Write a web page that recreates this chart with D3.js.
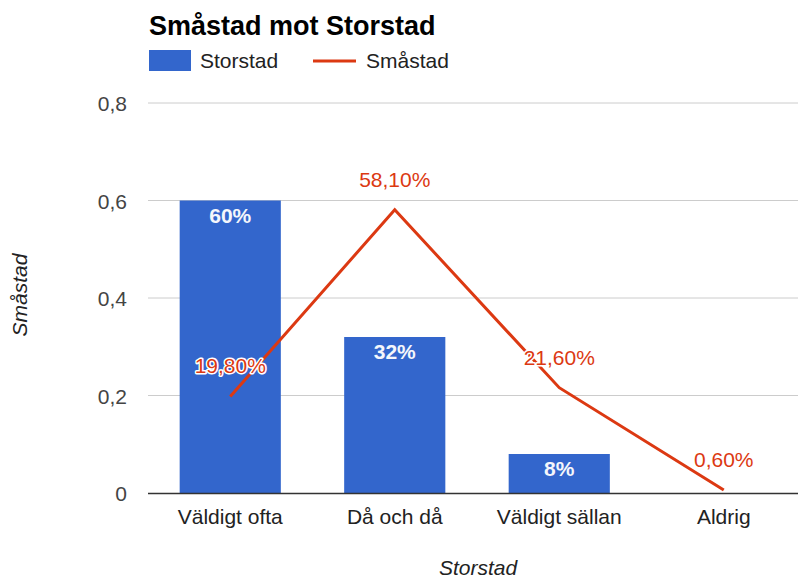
<!DOCTYPE html>
<html>
<head>
<meta charset="utf-8">
<script src="https://cdn.jsdelivr.net/npm/d3@7"></script>
<style>
  body { margin: 0; background: #fff; }
  svg text { font-family: Arial, "Liberation Sans", sans-serif; }
</style>
</head>
<body>
<div id="chart"></div>
<script>
// data
var categories   = ['Väldigt ofta', 'Då och då', 'Väldigt sällan', 'Aldrig'];
var storstadVals = [0.60, 0.32, 0.08, 0];
var storstadLbls = ['60%', '32%', '8%', ''];
var smastadVals  = [0.198, 0.581, 0.216, 0.006];
var smastadLbls  = ['19,80%', '58,10%', '21,60%', '0,60%'];
var yTicks       = [0, 0.2, 0.4, 0.6, 0.8];
var yTickLabels  = ['0', '0,2', '0,4', '0,6', '0,8'];

var W = 798, H = 579;
var blue = '#3366cc', red = '#dc3912';
var fs = '21px';

var svg = d3.select('#chart').append('svg')
	.attr('width', W)
	.attr('height', H);

var x = d3.scaleBand()
	.domain(categories)
	.range([148, 806])
	.paddingInner(0.385)
	.paddingOuter(0.1925);

var y = d3.scaleLinear()
	.domain([0, 0.8])
	.range([493, 103]);

// gridlines
svg.selectAll('.grid')
	.data(yTicks.slice(1))
	.enter()
	.append('line')
		.attr('class', 'grid')
		.attr('x1', 148).attr('x2', W)
		.attr('y1', function(d) { return y(d); })
		.attr('y2', function(d) { return y(d); })
		.style('stroke', '#cccccc')
		.style('stroke-width', 1);

// y tick labels
svg.selectAll('.ytick')
	.data(yTicks)
	.enter()
	.append('text')
		.attr('class', 'ytick')
		.attr('x', 127)
		.attr('y', function(d) { return y(d) + 8; })
		.attr('text-anchor', 'end')
		.style('font-size', fs)
		.style('fill', '#444')
		.text(function(d, i) { return yTickLabels[i]; });

// bars
svg.selectAll('.bar')
	.data(storstadVals)
	.enter()
	.append('rect')
		.attr('class', 'bar')
		.attr('x', function(d, i) { return x(categories[i]); })
		.attr('width', x.bandwidth())
		.attr('y', function(d) { return y(d); })
		.attr('height', function(d) { return y(0) - y(d); })
		.style('fill', blue);

svg.selectAll('.barlbl')
	.data(storstadVals)
	.enter()
	.append('text')
		.attr('class', 'barlbl')
		.attr('x', function(d, i) { return x(categories[i]) + x.bandwidth() / 2; })
		.attr('y', function(d) { return y(d) + 22; })
		.attr('text-anchor', 'middle')
		.style('font-size', fs)
		.style('font-weight', 'bold')
		.style('fill', '#f4f6fb')
		.text(function(d, i) { return storstadLbls[i]; });

// baseline
svg.append('line')
	.attr('x1', 148).attr('x2', W)
	.attr('y1', y(0) + 0.5).attr('y2', y(0) + 0.5)
	.style('stroke', '#333')
	.style('stroke-width', 1.5);

// line series
var line = d3.line()
	.x(function(d, i) { return x(categories[i]) + x.bandwidth() / 2; })
	.y(function(d) { return y(d); });

svg.append('path')
	.datum(smastadVals)
	.attr('d', line)
	.style('fill', 'none')
	.style('stroke', red)
	.style('stroke-width', 3);

svg.selectAll('.linelbl')
	.data(smastadVals)
	.enter()
	.append('text')
		.attr('class', 'linelbl')
		.attr('x', function(d, i) { return x(categories[i]) + x.bandwidth() / 2; })
		.attr('y', function(d) { return y(d) - 23; })
		.attr('text-anchor', 'middle')
		.style('font-size', fs)
		.style('fill', red)
		.style('stroke', '#fff')
		.style('stroke-width', 3)
		.style('stroke-linejoin', 'round')
		.style('paint-order', 'stroke')
		.text(function(d, i) { return smastadLbls[i]; });

// x tick labels
svg.selectAll('.xtick')
	.data(categories)
	.enter()
	.append('text')
		.attr('class', 'xtick')
		.attr('x', function(d) { return x(d) + x.bandwidth() / 2; })
		.attr('y', 524)
		.attr('text-anchor', 'middle')
		.style('font-size', fs)
		.style('fill', '#222')
		.text(function(d) { return d; });

// axis titles
svg.append('text')
	.attr('x', 478).attr('y', 575)
	.attr('text-anchor', 'middle')
	.style('font-size', fs)
	.style('font-style', 'italic')
	.style('fill', '#222')
	.text('Storstad');

svg.append('text')
	.attr('transform', 'translate(27,295) rotate(-90)')
	.attr('text-anchor', 'middle')
	.style('font-size', fs)
	.style('font-style', 'italic')
	.style('fill', '#222')
	.text('Småstad');

// title + legend
svg.append('text')
	.attr('x', 149).attr('y', 35)
	.style('font-size', '27px')
	.style('font-weight', 'bold')
	.style('fill', '#000')
	.text('Småstad mot Storstad');

svg.append('rect')
	.attr('x', 149).attr('y', 50)
	.attr('width', 42).attr('height', 21)
	.style('fill', blue);
svg.append('text')
	.attr('x', 200).attr('y', 68)
	.style('font-size', fs)
	.style('fill', '#222')
	.text('Storstad');

svg.append('line')
	.attr('x1', 313).attr('x2', 356)
	.attr('y1', 61).attr('y2', 61)
	.style('stroke', red)
	.style('stroke-width', 3);
svg.append('text')
	.attr('x', 366).attr('y', 68)
	.style('font-size', fs)
	.style('fill', '#222')
	.text('Småstad');
</script>
</body>
</html>
